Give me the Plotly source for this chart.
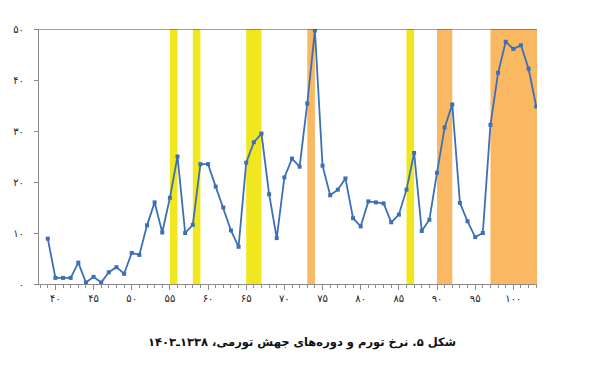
import plotly.graph_objects as go

years = list(range(1339, 1404))
inflation = [8.9, 1.2, 1.2, 1.2, 4.2, 0.3, 1.4, 0.3, 2.3, 3.3,
             2.0, 6.1, 5.7, 11.5, 16.0, 10.1, 16.9, 25.0, 10.0, 11.6,
             23.5, 23.5, 19.1, 15.0, 10.5, 7.3, 23.8, 27.8, 29.5, 17.6,
             9.0, 20.9, 24.6, 23.0, 35.4, 49.7, 23.2, 17.4, 18.5, 20.7,
             12.9, 11.3, 16.2, 16.0, 15.8, 12.1, 13.6, 18.5, 25.7, 10.4,
             12.6, 21.8, 30.7, 35.2, 15.9, 12.3, 9.2, 10.0, 31.2, 41.4,
             47.5, 46.1, 46.8, 42.2, 34.8]

# jump periods (start year, end year, type)
band_start = [1355, 1358, 1365, 1373, 1386, 1390, 1397]
band_end = [1356, 1359, 1367, 1374, 1387, 1392, 1403.1]
band_kind = ["y", "y", "y", "o", "y", "o", "o"]

x_tickvals = [1340, 1345, 1350, 1355, 1360, 1365, 1370, 1375, 1380, 1385, 1390, 1395, 1400]
x_ticktext = ["۴۰", "۴۵", "۵۰", "۵۵", "۶۰", "۶۵", "۷۰", "۷۵", "۸۰", "۸۵", "۹۰", "۹۵", "۱۰۰"]
y_tickvals = [0, 10, 20, 30, 40, 50]
y_ticktext = ["۰", "۱۰", "۲۰", "۳۰", "۴۰", "۵۰"]

caption = "\u200fشکل ۵. نرخ تورم و دوره‌های جهش تورمی، ۱۳۳۸ـ۱۴۰۳\u200f"

colors = {"y": "#F1E71E", "o": "#FBB862"}

fig = go.Figure()
fig.add_trace(go.Scatter(
    x=years, y=inflation, mode="lines+markers",
    line=dict(color="#3D6FB6", width=1.8),
    marker=dict(symbol="square", size=4, color="#3D6FB6"),
    hoverinfo="x+y", showlegend=False,
))

shapes = []
for s, e, k in zip(band_start, band_end, band_kind):
    shapes.append(dict(type="rect", xref="x", yref="y", x0=s, x1=e, y0=0, y1=50,
                       fillcolor=colors[k], line=dict(width=0), layer="below"))
shapes.append(dict(type="line", xref="paper", yref="y", x0=0, x1=1, y0=50, y1=50,
                   line=dict(color="#404040", width=1)))

fig.update_layout(
    width=612, height=375,
    margin=dict(l=31, r=83, t=21, b=99),
    paper_bgcolor="white", plot_bgcolor="white",
    shapes=shapes,
    font=dict(family="DejaVu Sans", size=10, color="#222"),
    xaxis=dict(
        range=[1337.85, 1403.1], showgrid=False, zeroline=False,
        showline=True, linecolor="#8c8c8c", linewidth=1,
        tickmode="array", tickvals=x_tickvals, ticktext=x_ticktext,
        ticks="outside", ticklen=5, tickcolor="#8c8c8c", tickwidth=1,
        tickfont=dict(size=10, family="DejaVu Sans", color="#222"),
        minor=dict(dtick=1, tick0=1340, ticks="outside", ticklen=3,
                   tickcolor="#8c8c8c", showgrid=False),
        automargin=False, fixedrange=True,
    ),
    yaxis=dict(
        range=[0, 50], showgrid=False, zeroline=False,
        showline=True, linecolor="#8c8c8c", linewidth=1,
        tickmode="array", tickvals=y_tickvals, ticktext=y_ticktext,
        ticks="outside", ticklen=4, tickcolor="#8c8c8c",
        ticklabelstandoff=8,
        tickfont=dict(size=10, family="DejaVu Sans", color="#222"),
        automargin=False, fixedrange=True,
    ),
    annotations=[dict(
        text="<b>" + caption + "</b>", xref="paper", yref="paper",
        x=0.528, y=-0.23, xanchor="center", yanchor="middle", showarrow=False,
        font=dict(size=11.5, family="DejaVu Sans", color="#111"),
    )],
)

fig.write_html("out.html", config={"displayModeBar": False})
